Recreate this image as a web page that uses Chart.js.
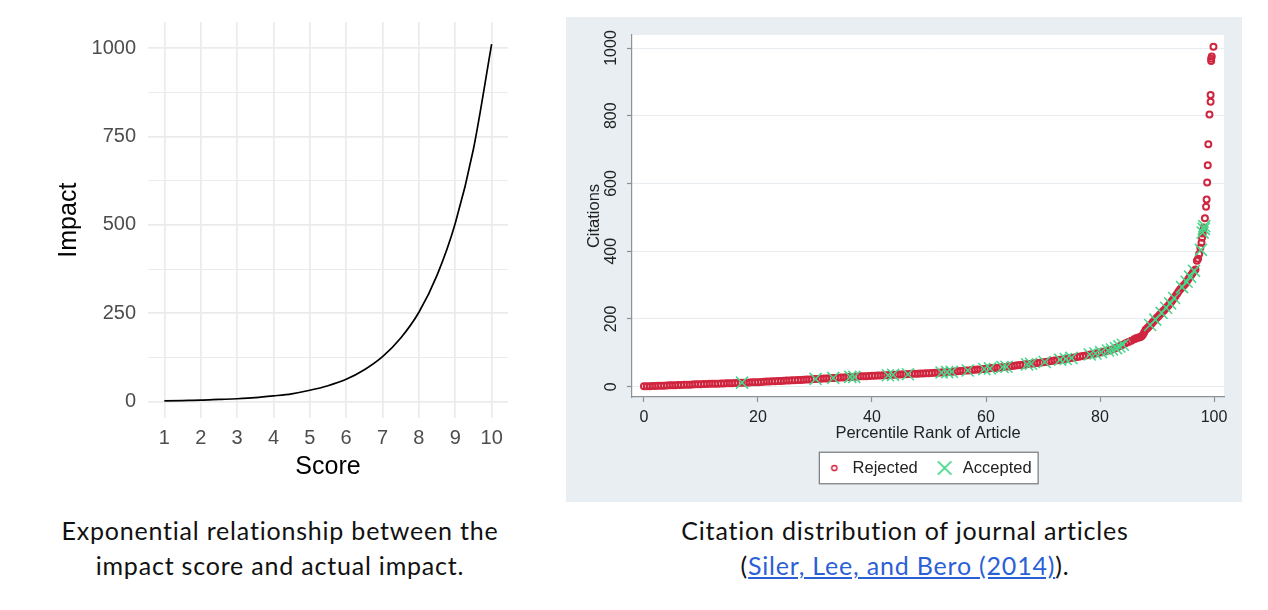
<!DOCTYPE html>
<html><head><meta charset="utf-8">
<script src="https://cdn.jsdelivr.net/npm/chart.js@4.4.1/dist/chart.umd.min.js"></script>
<style>
html,body{margin:0;padding:0;background:#fff;}
body{width:1268px;height:610px;position:relative;overflow:hidden;font-family:Lato,'Noto Sans',sans-serif;}
canvas{display:block;}
#panel{position:absolute;left:566px;top:17px;width:676px;height:485px;background:#e8eef1;}
.cap{position:absolute;top:513px;text-align:center;font-size:25px;letter-spacing:0.8px;line-height:35px;color:#111;white-space:nowrap;}
.cap a{color:#2b5fd6;text-decoration:underline;}
</style></head><body>
<canvas id="c1" width="540" height="482" style="position:absolute;left:0;top:0"></canvas>
<div id="panel"><canvas id="c2" width="676" height="485"></canvas></div>
<div class="cap" style="left:0px;width:560px">Exponential relationship between the<br>impact score and actual impact.</div>
<div class="cap" style="left:625px;width:560px">Citation distribution of journal articles<br>(<a href="#">Siler, Lee, and Bero (2014)</a>).</div>
<script>
// ---------- Left chart data ----------
const scoreValues = [1,1.5,2,2.5,3,3.5,4,4.5,5,5.5,6,6.5,7,7.5,8,8.5,9,9.5,10];
const impactValues = [2,3,4,6,8,11,16,22,32,45,63,90,127,180,253,358,505,715,1012];
const scoreTicks = [1,2,3,4,5,6,7,8,9,10];
const impactMajorTicks = [0,250,500,750,1000];
const impactMinorTicks = [125,375,625,875];

// ---------- Right chart data ----------
const rejectedPct = [
0,0.5,1,1.5,2,2.5,3,3.5,4,4.5,
5,5.5,6,6.5,7,7.5,8,8.5,9,9.5,
10,10.5,11,11.5,12,12.5,13,13.5,14,14.5,
15,15.5,16,16.5,17,17.5,18,18.5,19,19.5,
20,20.5,21,21.5,22,22.5,23,23.5,24,24.5,
25,25.5,26,26.5,27,27.5,28,28.5,29,29.5,
30,30.5,31,31.5,32,32.5,33,33.5,34,34.5,
35,35.5,36,36.5,37,37.5,38,38.5,39,39.5,
40,40.5,41,41.5,42,42.5,43,43.5,44,44.5,
45,45.5,46,46.5,47,47.5,48,48.5,49,49.5,
50,50.5,51,51.5,52,52.5,53,53.5,54,54.5,
55,55.5,56,56.5,57,57.5,58,58.5,59,59.5,
60,60.5,61,61.5,62,62.5,63,63.5,64,64.5,
65,65.5,66,66.5,67,67.5,68,68.5,69,69.5,
70,70.5,71,71.5,72,72.5,73,73.5,74,74.5,
75,75.5,76,76.5,77,77.5,78,78.5,79,79.5,
80,80.5,81,81.5,82,82.5,83,83.5,84,84.5,
85,85.5,86,
86.25,86.5,86.75,87,87.25,87.5,87.75,88,88.25,88.5,88.75,
89,89.25,89.5,89.75,90,90.25,90.5,90.75,91,91.25,91.5,91.75,
92,92.25,92.5,92.75,93,93.25,93.5,93.75,94,94.25,94.5,94.75,
95,95.25,95.5,95.75,96,96.25,96.5,96.75,97,97.2,97.4,97.6,97.8,97.9,98.0,98.1,98.2,
98.4,98.6,98.7,98.8,98.9,99.0,99.2,99.4,99.4,99.5,99.5,99.6,99.9
];
const rejectedCit = [
1,1,1.5,2,2,2.5,3,3,3.5,4,
4,4.5,5,5,5.5,6,6,6.5,7,7,
7.5,8,8,8.5,8.5,9,9,9.5,9.5,10,
10,10.5,11,11,11.5,12,12,12.5,13,13,
13.5,14,14.5,15,15.5,16,16,16.5,17,17.5,
18,18.5,19,19,19.5,20,20.5,21,21.5,22,
22.5,23,23.5,24,24.5,25,25.5,26,26.5,27,
27.5,28,28.5,29,29.5,30,30.5,31,31,31.5,
32,32.5,33,33,33.5,34,34.5,35,35.5,36,
36,36.5,37,37.5,38,38,38.5,39,39,39.5,
40,40.5,41,41.5,42,42.5,43,43.5,44,45,
45.5,46,47,47.5,48,49,50,50.5,51,52,
53,54,55,55.5,56,57,58,59,60,61,
62,63,64,65,66,67,68,69,70,71,
72,73,74.5,76,77,78,79.5,81,82,83,
84.5,86,87.5,89,90.5,92,94,96,97.5,99,
101,103,105,107,109,112,116,120,124,128,
132,136,140,
142,144,145,146,148,153,160,168,172,176,181,
185,190,195,199,204,208,213,217,222,226,231,235,
240,245,251,256,262,268,274,280,286,291,296,300,
305,311,318,324,330,336,342,346,372,378,392,410,425,440,452,462,470,
497,531,553,603,654,716,804,841,861,962,968,975,1004
];
const acceptedPct = [17.2,30.1,33.2,36.2,36.9,42.8,43.7,46.3,52.2,53.2,54.0,56.8,59.7,60.7,62.9,63.6,67.2,67.9,70.3,73.0,74.0,75.0,78.2,79.2,80.2,81.4,82.1,82.8,83.4,84.0,88.8,89.7,90.8,91.6,92.3,93.0,94.4,95.2,95.8,96.5,97.7,98.0,98.2,98.3];
const acceptedCit = [12,23,26,29,29,34,35,37,42,43,44,48,52,54,58,59,66,68,73,80,82,85,95,98,102,107,110,114,119,124,182,198,218,233,246,262,294,310,325,342,404,455,466,474];
const percentileTicks = [0,20,40,60,80,100];
const citationTicks = [0,200,400,600,800,1000];

Chart.defaults.font.family = "'Liberation Sans', Arial, Helvetica, sans-serif";
Chart.defaults.animation = false;

// ---------- Left chart ----------
new Chart(document.getElementById('c1'), {
  type: 'scatter',
  data: { datasets: [{
    label: 'Impact',
    data: scoreValues.map((s, i) => ({x: s, y: impactValues[i]})),
    showLine: true, borderColor: '#000', borderWidth: 1.7, pointRadius: 0,
    cubicInterpolationMode: 'monotone', fill: false
  }]},
  options: {
    responsive: false, animation: false,
    layout: { padding: {left: 54.3, right: 32, top: 22, bottom: 0} },
    plugins: { legend: {display: false}, tooltip: {enabled: false} },
    scales: {
      x: {
        type: 'linear', min: 0.55, max: 10.45,
        afterBuildTicks: s => { s.ticks = scoreTicks.map(v => ({value: v})); },
        afterFit: s => { s.height = 63.7; },
        ticks: {autoSkip: false, maxRotation: 0, padding: 8.3, color: '#4d4d4d', font: {size: 20}},
        grid: {color: '#ebebeb', lineWidth: 1.7, drawTicks: false},
        border: {display: false},
        title: {display: true, text: 'Score', color: '#000', font: {size: 25}, padding: 0}
      },
      y: {
        min: -47.3, max: 1074.5,
        afterBuildTicks: s => { s.ticks = impactMajorTicks.concat(impactMinorTicks).sort((a, b) => a - b).map(v => ({value: v})); },
        afterFit: s => { s.width = 93.7; },
        ticks: {autoSkip: false, padding: 12, color: '#4d4d4d', font: {size: 20, lineHeight: 1},
          callback: v => impactMajorTicks.includes(v) ? String(v) : ''},
        grid: {color: '#ebebeb', lineWidth: c => (c.tick && impactMajorTicks.includes(c.tick.value)) ? 1.7 : 1.1, drawTicks: false},
        border: {display: false},
        title: {display: true, text: 'Impact', color: '#000', font: {size: 25}, padding: 0}
      }
    }
  }
});

// ---------- Right chart ----------
const RED = '#d0253f', GREEN = '#45d88a', AXIS = '#8b9196';
function makeMarker(size, opts, color) {
  const c = document.createElement('canvas');
  c.width = size; c.height = size;
  const g = c.getContext('2d');
  g.strokeStyle = color; g.fillStyle = 'rgba(0,0,0,0)'; g.lineWidth = opts.borderWidth;
  Chart.helpers.drawPoint(g, opts, size / 2, size / 2);
  return c;
}
const ringImg = makeMarker(10, {pointStyle: 'circle', radius: 2.6, borderWidth: 1.5}, RED);
const crossImg = makeMarker(18, {pointStyle: 'crossRot', radius: 9.5, borderWidth: 1.8}, GREEN);

const panelPlugin = {
  id: 'panelBg',
  beforeDraw(chart) {
    const {ctx, chartArea: a} = chart;
    ctx.save();
    ctx.fillStyle = '#ffffff';
    ctx.fillRect(a.left, a.top, a.right - a.left, a.bottom - a.top);
    const hb = chart.legend && chart.legend.legendHitBoxes;
    if (hb && hb.length) {
      const l = Math.min(...hb.map(h => h.left)) - 5;
      const r = Math.max(...hb.map(h => h.left + h.width)) + 6.5;
      const t = hb[0].top - 7.5, b = hb[0].top + hb[0].height + 7.5;
      ctx.fillRect(l, t, r - l, b - t);
      ctx.strokeStyle = '#7d8387'; ctx.lineWidth = 1.3;
      ctx.strokeRect(l, t, r - l, b - t);
    }
    ctx.restore();
  }
};

new Chart(document.getElementById('c2'), {
  type: 'scatter',
  data: { datasets: [
    { label: 'Rejected', data: rejectedPct.map((p, i) => ({x: p, y: rejectedCit[i]})),
      pointStyle: 'circle', pointRadius: 3, pointBorderWidth: 2, pointHoverRadius: 3,
      borderColor: RED, backgroundColor: 'rgba(0,0,0,0)', order: 2 },
    { label: 'Accepted', data: acceptedPct.map((p, i) => ({x: p, y: acceptedCit[i]})),
      pointStyle: 'crossRot', pointRadius: 8.5, pointBorderWidth: 1.5, pointHoverRadius: 8.5,
      borderColor: GREEN, backgroundColor: GREEN, order: 1 }
  ]},
  options: {
    responsive: false, animation: false,
    layout: { padding: {left: 26, right: 18, top: 18, bottom: 15.75} },
    plugins: {
      tooltip: {enabled: false},
      legend: {
        position: 'bottom', fullSize: false,
        labels: {
          usePointStyle: true, pointStyleWidth: 20, boxWidth: 20, padding: 16.85,
          color: '#222', font: {size: 16.5},
          generateLabels: () => [
            {text: 'Rejected', pointStyle: ringImg, datasetIndex: 0, fillStyle: 'rgba(0,0,0,0)', strokeStyle: 'rgba(0,0,0,0)', lineWidth: 0, hidden: false, fontColor: '#222'},
            {text: 'Accepted', pointStyle: crossImg, datasetIndex: 1, fillStyle: 'rgba(0,0,0,0)', strokeStyle: 'rgba(0,0,0,0)', lineWidth: 0, hidden: false, fontColor: '#222'}
          ]
        }
      }
    },
    scales: {
      x: {
        type: 'linear', min: -2.1, max: 101.75,
        afterBuildTicks: s => { s.ticks = percentileTicks.map(v => ({value: v})); },
        afterFit: s => { s.height = 45.9; },
        ticks: {autoSkip: false, maxRotation: 0, padding: 6.4, color: '#222', font: {size: 16}, callback: v => String(v)},
        grid: {drawOnChartArea: false, drawTicks: true, tickLength: 5, tickColor: AXIS, tickWidth: 1.2},
        border: {color: AXIS, width: 1.2},
        title: {display: true, text: 'Percentile Rank of Article', color: '#222', font: {size: 16.5}, padding: 0}
      },
      y: {
        min: -30.4, max: 1038.4,
        afterBuildTicks: s => { s.ticks = citationTicks.map(v => ({value: v})); },
        afterFit: s => { s.width = 40; },
        ticks: {autoSkip: false, minRotation: 90, maxRotation: 90, crossAlign: 'center', padding: -2.8, color: '#222', font: {size: 16}, callback: v => String(v)},
        grid: {color: '#e6ecef', lineWidth: 1, drawTicks: true, tickLength: 5, tickColor: AXIS, tickWidth: 1.2},
        border: {color: AXIS, width: 1.2},
        title: {display: true, text: 'Citations', color: '#222', font: {size: 16.5}, padding: {top: -7.9, bottom: 0}}
      }
    }
  },
  plugins: [panelPlugin]
});
</script>
</body></html>
